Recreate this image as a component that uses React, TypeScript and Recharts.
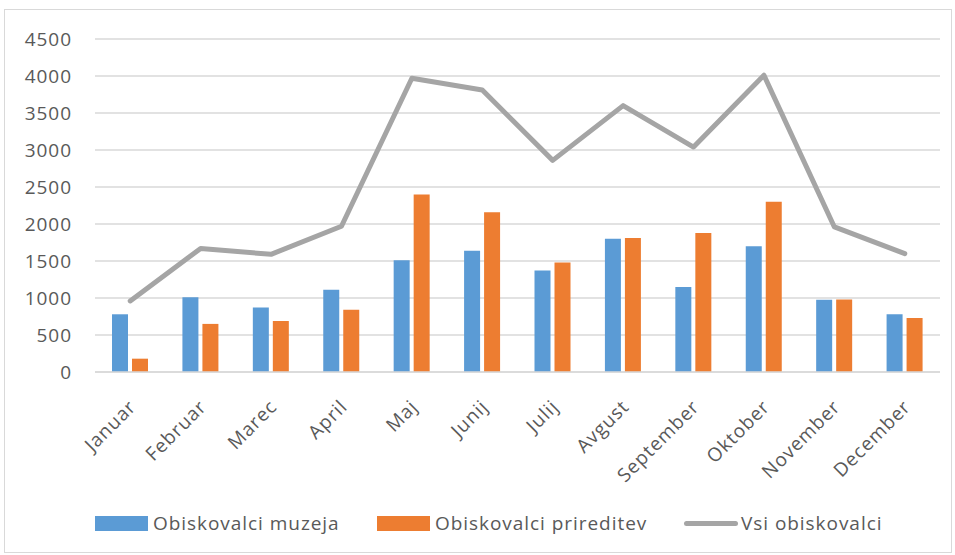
import { Bar, CartesianGrid, ComposedChart, Legend, Line, XAxis, YAxis } from "recharts";

const months = ["Januar", "Februar", "Marec", "April", "Maj", "Junij", "Julij", "Avgust", "September", "Oktober", "November", "December"];
const muzej = [780, 1010, 870, 1110, 1510, 1640, 1370, 1800, 1150, 1700, 975, 780];
const prireditve = [180, 650, 690, 840, 2400, 2160, 1480, 1810, 1880, 2300, 980, 730];
const vsi = [960, 1670, 1590, 1970, 3970, 3810, 2860, 3600, 3040, 4010, 1960, 1600];
const yTicks = [0, 500, 1000, 1500, 2000, 2500, 3000, 3500, 4000, 4500];

const data = months.map((m, i) => ({ month: m, muzej: muzej[i], prireditve: prireditve[i], vsi: vsi[i] }));

const FONT = "'Open Sans', sans-serif";
const TEXT = "#595959";
const BLUE = "#5B9BD5";
const ORANGE = "#ED7D31";
const GRAY = "#A5A5A5";
const SPACING = 0.95;

function MonthTick(props: any) {
  const { x, y, payload } = props;
  const ax = x + 7;
  const ay = y + 28;
  return (
    <text
      x={ax}
      y={ay}
      transform={`rotate(-45 ${ax} ${ay})`}
      textAnchor="end"
      fill={TEXT}
      fontSize={19}
      letterSpacing={SPACING}
      fontFamily={FONT}
    >
      {payload.value}
    </text>
  );
}

function LegendContent() {
  const items = [
    { label: "Obiskovalci muzeja", color: BLUE, type: "bar", left: 95 },
    { label: "Obiskovalci prireditev", color: ORANGE, type: "bar", left: 377 },
    { label: "Vsi obiskovalci", color: GRAY, type: "line", left: 684 },
  ];
  return (
    <div style={{ position: "relative", height: 30, fontFamily: FONT, fontSize: 19, letterSpacing: SPACING, color: TEXT }}>
      {items.map((it) => (
        <div key={it.label} style={{ position: "absolute", left: it.left, top: 0, height: 30, display: "flex", alignItems: "center" }}>
          {it.type === "bar" ? (
            <span style={{ display: "inline-block", width: 53, height: 15, background: it.color, marginRight: 5 }} />
          ) : (
            <span style={{ display: "inline-block", width: 54, height: 5, borderRadius: 3, background: it.color, marginRight: 3 }} />
          )}
          <span>{it.label}</span>
        </div>
      ))}
    </div>
  );
}

export default function App() {
  return (
    <div style={{ position: "absolute", left: 0, top: 0, width: 955, height: 555, background: "#fff" }}>
      <div style={{ position: "absolute", left: 4, top: 9, width: 946, height: 542, border: "1px solid #D9D9D9" }} />
      <ComposedChart
        width={955}
        height={555}
        data={data}
        margin={{ top: 39, right: 15, left: 0, bottom: 17 }}
        barSize={16}
        barGap={4}
      >
        <CartesianGrid vertical={false} stroke="#D9D9D9" strokeWidth={1.5} />
        <XAxis
          dataKey="month"
          height={136}
          interval={0}
          tick={<MonthTick />}
          tickLine={false}
          axisLine={{ stroke: "#D9D9D9", strokeWidth: 1.5 }}
        />
        <YAxis
          width={95}
          domain={[0, 4500]}
          ticks={yTicks}
          tickLine={false}
          axisLine={false}
          tickSize={0}
          tickMargin={23}
          tick={{ fill: TEXT, fontSize: 19, fontFamily: FONT, letterSpacing: SPACING }}
        />
        <Legend verticalAlign="bottom" height={30} content={<LegendContent />} />
        <Bar dataKey="muzej" name="Obiskovalci muzeja" fill={BLUE} isAnimationActive={false} />
        <Bar dataKey="prireditve" name="Obiskovalci prireditev" fill={ORANGE} isAnimationActive={false} />
        <Line
          dataKey="vsi"
          name="Vsi obiskovalci"
          stroke={GRAY}
          strokeWidth={5}
          strokeLinecap="round"
          strokeLinejoin="round"
          dot={false}
          activeDot={false}
          isAnimationActive={false}
        />
      </ComposedChart>
    </div>
  );
}
